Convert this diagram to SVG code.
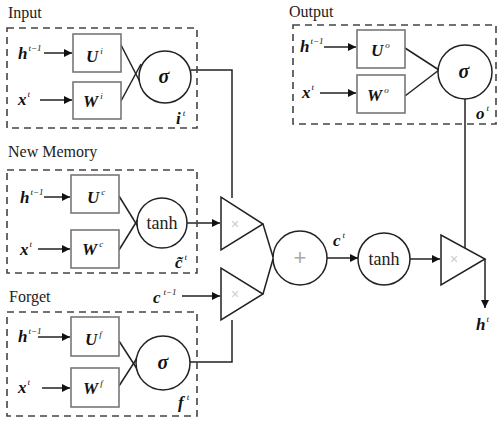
<svg xmlns="http://www.w3.org/2000/svg" width="498" height="424" viewBox="0 0 498 424">
<style>
.bg{fill:#fff}
.dash{fill:none;stroke:#444;stroke-width:1.6;stroke-dasharray:7 5}
.gate{fill:#fff;stroke:#777;stroke-width:1.6}
.ln{fill:none;stroke:#222;stroke-width:1.5}
.circ{fill:#fff;stroke:#222;stroke-width:1.5}
.tri{fill:#fff;stroke:#222;stroke-width:1.5;stroke-linejoin:miter}
.ttl{font-family:"Liberation Serif",serif;font-size:16px;fill:#222}
.v{font-family:"Liberation Serif",serif;font-size:17px;font-weight:bold;font-style:italic;fill:#111}
.sup{font-size:9px;font-weight:normal}
.fn{font-family:"Liberation Serif",serif;font-size:18px;fill:#222;text-anchor:middle}
.sg{font-family:"Liberation Serif",serif;font-size:20px;font-weight:bold;font-style:italic;fill:#111;text-anchor:middle}
.faint{font-family:"Liberation Sans",sans-serif;font-size:14px;fill:#ccc;text-anchor:middle}
</style>
<defs>
<marker id="ah" viewBox="0 0 10 10" refX="10" refY="5" markerWidth="8" markerHeight="8" markerUnits="userSpaceOnUse" orient="auto">
<path d="M0,0 L10,5 L0,10 z" fill="#111"/>
</marker>
</defs>
<rect class="bg" x="0" y="0" width="498" height="424"/>

<g id="connectors">
<line class="ln" x1="44" y1="53" x2="72" y2="53" marker-end="url(#ah)"/>
<line class="ln" x1="40" y1="100" x2="72" y2="100" marker-end="url(#ah)"/>
<line class="ln" x1="121" y1="45" x2="141" y2="84"/>
<line class="ln" x1="121" y1="101" x2="141" y2="64"/>
<polyline class="ln" points="191,70 232,70 232,198"/>

<line class="ln" x1="44" y1="197" x2="70" y2="197" marker-end="url(#ah)"/>
<line class="ln" x1="38" y1="249" x2="70" y2="249" marker-end="url(#ah)"/>
<line class="ln" x1="119" y1="196" x2="140" y2="230"/>
<line class="ln" x1="119" y1="250" x2="140" y2="216"/>
<line class="ln" x1="187" y1="223" x2="220" y2="223" marker-end="url(#ah)"/>

<line class="ln" x1="38" y1="337" x2="70" y2="337" marker-end="url(#ah)"/>
<line class="ln" x1="42" y1="388" x2="70" y2="388" marker-end="url(#ah)"/>
<line class="ln" x1="119" y1="341" x2="139" y2="372"/>
<line class="ln" x1="119" y1="386" x2="139" y2="355"/>
<polyline class="ln" points="190,362 232,362 232,320"/>
<line class="ln" x1="182" y1="296" x2="220" y2="296" marker-end="url(#ah)"/>

<line class="ln" x1="263" y1="224" x2="273" y2="257"/>
<line class="ln" x1="263" y1="294" x2="273" y2="259"/>
<line class="ln" x1="327" y1="258" x2="358" y2="258" marker-end="url(#ah)"/>
<line class="ln" x1="410" y1="259" x2="440" y2="259" marker-end="url(#ah)"/>
<line class="ln" x1="465" y1="99" x2="465" y2="248"/>
<line class="ln" x1="485" y1="259" x2="485" y2="308" marker-end="url(#ah)"/>

<line class="ln" x1="324" y1="47" x2="356" y2="47" marker-end="url(#ah)"/>
<line class="ln" x1="320" y1="93" x2="356" y2="93" marker-end="url(#ah)"/>
<line class="ln" x1="405" y1="48" x2="439" y2="70"/>
<line class="ln" x1="405" y1="96" x2="439" y2="70"/>
</g>

<g id="input">
<text class="ttl" x="8" y="18">Input</text>
<rect class="dash" x="7" y="28" width="190" height="100"/>
<text class="v" x="18" y="59">h<tspan class="sup" dx="1" dy="-8">t−1</tspan></text>
<text class="v" x="18" y="105">x<tspan class="sup" dx="1" dy="-8">t</tspan></text>
<text class="v" x="176" y="124">i<tspan class="sup" dx="2" dy="-8">t</tspan></text>
</g>
<g id="Ui"><rect class="gate" x="73" y="34" width="48" height="38"/><text class="v" x="86" y="62">U<tspan class="sup" dx="2" dy="-8">i</tspan></text></g>
<g id="Wi"><rect class="gate" x="73" y="82" width="48" height="37"/><text class="v" x="83" y="107">W<tspan class="sup" dx="2" dy="-8">i</tspan></text></g>
<g id="sig_i"><circle class="circ" cx="165" cy="77" r="26"/><text class="sg" x="164" y="83">σ</text></g>

<g id="newmemory">
<text class="ttl" x="8" y="157">New Memory</text>
<rect class="dash" x="7" y="170" width="190" height="103"/>
<text class="v" x="20" y="203">h<tspan class="sup" dx="1" dy="-8">t−1</tspan></text>
<text class="v" x="20" y="255">x<tspan class="sup" dx="1" dy="-8">t</tspan></text>
<text class="v" x="175" y="268">c̃<tspan class="sup" dx="2" dy="-8">t</tspan></text>
</g>
<g id="Uc"><rect class="gate" x="71" y="175" width="48" height="38"/><text class="v" x="87" y="203">U<tspan class="sup" dx="2" dy="-8">c</tspan></text></g>
<g id="Wc"><rect class="gate" x="71" y="230" width="48" height="38"/><text class="v" x="82" y="255">W<tspan class="sup" dx="2" dy="-8">c</tspan></text></g>
<g id="tanh_c"><circle class="circ" cx="162" cy="223" r="25"/><text class="fn" x="162" y="229">tanh</text></g>

<g id="forget">
<text class="ttl" x="9" y="302">Forget</text>
<rect class="dash" x="7" y="312" width="190" height="104"/>
<text class="v" x="18" y="342">h<tspan class="sup" dx="1" dy="-8">t−1</tspan></text>
<text class="v" x="18" y="393">x<tspan class="sup" dx="1" dy="-8">t</tspan></text>
<text class="v" x="178" y="408">f<tspan class="sup" dx="3" dy="-8">t</tspan></text>
</g>
<g id="cprev"><text class="v" x="153" y="303">c<tspan class="sup" dx="3" dy="-8">t−1</tspan></text></g>
<g id="Uf"><rect class="gate" x="71" y="317" width="48" height="39"/><text class="v" x="85" y="345">U<tspan class="sup" dx="2" dy="-8">f</tspan></text></g>
<g id="Wf"><rect class="gate" x="71" y="368" width="48" height="39"/><text class="v" x="83" y="394">W<tspan class="sup" dx="2" dy="-8">f</tspan></text></g>
<g id="sig_f"><circle class="circ" cx="163" cy="363" r="27"/><text class="sg" x="163" y="369">σ</text></g>

<g id="mul_c"><polygon class="tri" points="221,197 221,250 263,224"/><text class="faint" x="235" y="229">×</text></g>
<g id="mul_f"><polygon class="tri" points="221,268 221,320 263,294"/><text class="faint" x="235" y="299">×</text></g>
<g id="sum"><circle class="circ" cx="300" cy="258" r="27"/><text class="faint" x="300" y="265" style="font-size:22px;fill:#aaa">+</text></g>
<g id="ct"><text class="v" x="333" y="246">c<tspan class="sup" dx="2" dy="-8">t</tspan></text></g>
<g id="tanh_h"><circle class="circ" cx="384" cy="259" r="26"/><text class="fn" x="384" y="265">tanh</text></g>
<g id="mul_o"><polygon class="tri" points="441,235 441,285 485,259"/><text class="faint" x="454" y="264">×</text></g>
<g id="ht"><text class="v" x="476" y="330">h<tspan class="sup" dx="1" dy="-8">t</tspan></text></g>

<g id="output">
<text class="ttl" x="289" y="17">Output</text>
<rect class="dash" x="293" y="25" width="203" height="99"/>
<text class="v" x="300" y="52">h<tspan class="sup" dx="1" dy="-8">t−1</tspan></text>
<text class="v" x="302" y="98">x<tspan class="sup" dx="1" dy="-8">t</tspan></text>
<text class="v" x="476" y="119">o<tspan class="sup" dx="2" dy="-8">t</tspan></text>
</g>
<g id="Uo"><rect class="gate" x="357" y="30" width="48" height="38"/><text class="v" x="371" y="56">U<tspan class="sup" dx="2" dy="-8">o</tspan></text></g>
<g id="Wo"><rect class="gate" x="357" y="75" width="48" height="38"/><text class="v" x="367" y="101">W<tspan class="sup" dx="2" dy="-8">o</tspan></text></g>
<g id="sig_o"><circle class="circ" cx="465" cy="72" r="27"/><text class="sg" x="464" y="78">σ</text></g>
</svg>
